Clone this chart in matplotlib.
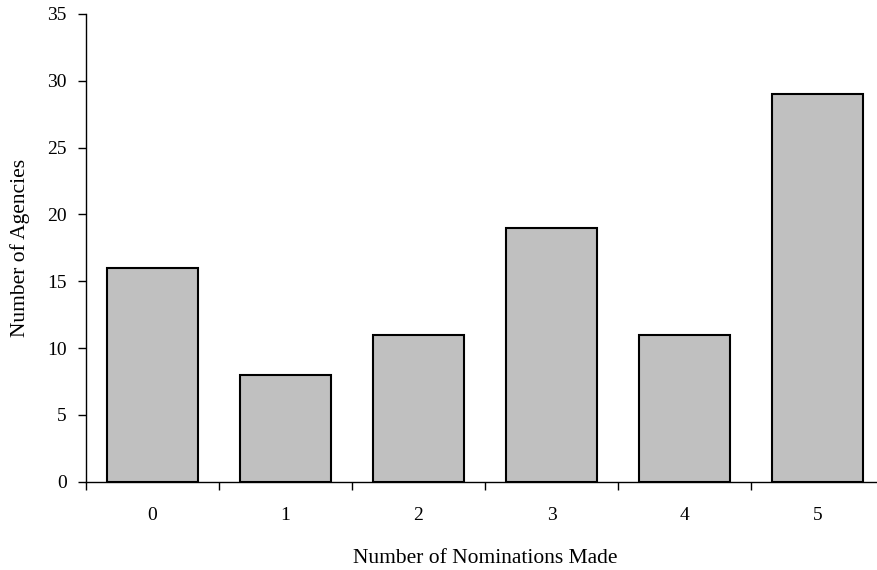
import numpy as np
import matplotlib.pyplot as plt

nominations = ['0', '1', '2', '3', '4', '5']
agencies = [16, 8, 11, 19, 11, 29]

plt.rcParams['font.family'] = ['Liberation Serif', 'DejaVu Serif']

fig = plt.figure(figsize=(8.77, 5.7), dpi=100)
ax = fig.add_axes([86 / 877, (570 - 481.7) / 570, 798 / 877, 467.7 / 570])

x = np.arange(len(nominations))
ax.bar(x, agencies, width=0.68, color='#c0c0c0', edgecolor='black', linewidth=1.5)

ax.set_xlim(-0.5, len(nominations) - 0.5)
ax.set_ylim(0, 35)
ax.set_yticks(range(0, 36, 5))
ax.set_xticks(x)
ax.set_xticklabels(nominations)
ax.set_xticks(np.arange(-0.5, len(nominations), 1.0), minor=True)

ax.tick_params(axis='x', which='major', length=0, pad=18, labelsize=14)
ax.tick_params(axis='x', which='minor', length=6, width=1, direction='out')
ax.tick_params(axis='y', length=6, width=1, direction='out', pad=8, labelsize=14)

for side in ['top', 'right']:
    ax.spines[side].set_visible(False)
for side in ['left', 'bottom']:
    ax.spines[side].set_linewidth(1)

ax.set_xlabel('Number of Nominations Made', fontsize=15.5, labelpad=18)
ax.set_ylabel('Number of Agencies', fontsize=15.5, labelpad=12)

fig.savefig('out.png', dpi=100)
